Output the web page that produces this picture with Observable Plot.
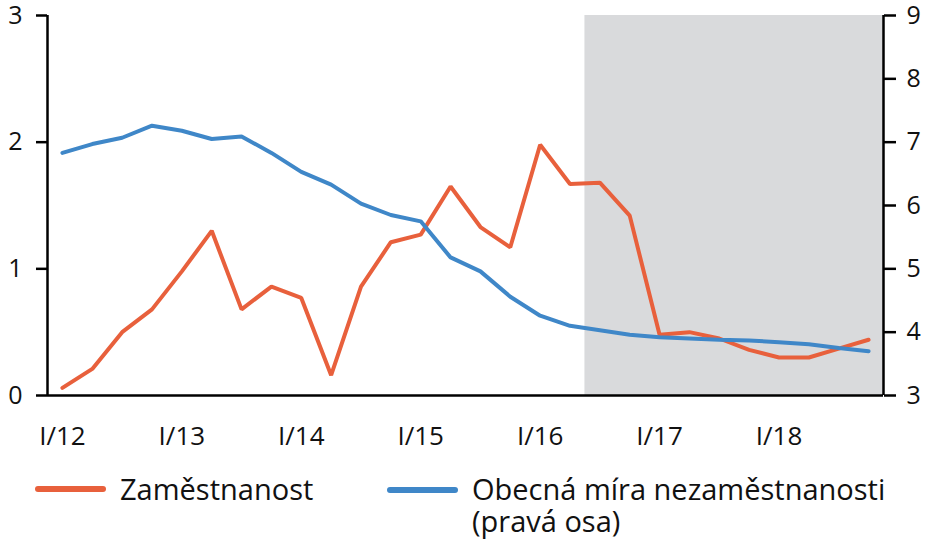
<!DOCTYPE html>
<html>
<head>
<meta charset="utf-8">
<script src="https://cdn.jsdelivr.net/npm/d3@7"></script>
<script src="https://cdn.jsdelivr.net/npm/@observablehq/plot@0.6"></script>
<style>
  html, body { margin: 0; padding: 0; background: #fff; }
  body { width: 937px; height: 543px; position: relative; overflow: hidden; font-family: "Open Sans", sans-serif; }
  #chart { position: absolute; left: 0; top: 0; }
  .leg { position: absolute; font-size: 29px; line-height: 29px; color: #111; white-space: nowrap; }
  .sw { position: absolute; height: 6px; border-radius: 3px; }
</style>
</head>
<body>
<div id="chart"></div>
<div class="sw" style="left:35px; top:486px; width:71px; background:#e8603c"></div>
<div class="leg" style="left:120px; top:474px;">Zaměstnanost</div>
<div class="sw" style="left:387px; top:487px; width:71px; background:#3f87c8"></div>
<div class="leg" style="left:472px; top:474px;">Obecná míra nezaměstnanosti</div>
<div class="leg" style="left:472px; top:506px;">(pravá osa)</div>
<script>
// quarterly data I/12 .. IV/18
const quarters = ["I/12","II/12","III/12","IV/12","I/13","II/13","III/13","IV/13","I/14","II/14","III/14","IV/14","I/15","II/15","III/15","IV/15","I/16","II/16","III/16","IV/16","I/17","II/17","III/17","IV/17","I/18","II/18","III/18","IV/18"];
const zamestnanost = [0.06,0.21,0.50,0.68,0.98,1.30,0.68,0.86,0.77,0.16,0.86,1.21,1.27,1.65,1.33,1.17,1.98,1.67,1.68,1.42,0.48,0.50,0.45,0.36,0.30,0.30,0.37,0.44];
const obecnaMira = [6.83,6.97,7.07,7.26,7.18,7.05,7.09,6.83,6.53,6.33,6.03,5.85,5.75,5.18,4.96,4.56,4.26,4.10,4.03,3.96,3.92,3.90,3.88,3.87,3.84,3.81,3.75,3.70];
const xTickLabels = ["I/12","I/13","I/14","I/15","I/16","I/17","I/18"];
const leftTicks = [0,1,2,3];
const rightTicks = [3,4,5,6,7,8,9];
const forecastFrom = "III/16";

const idx = q => quarters.indexOf(q);
const toLeft = v => (v - 3) / 2;   // right axis 3..9 mapped onto left 0..3
const fromLeft = v => v * 2 + 3;

const redData = zamestnanost.map((v, i) => ({q: i, v}));
const blueData = obecnaMira.map((v, i) => ({q: i, v: toLeft(v)}));
const xMin = -0.5, xMax = quarters.length - 0.5;
const shade = [{x1: idx(forecastFrom) - 0.5, x2: xMax, y1: leftTicks[0], y2: leftTicks[leftTicks.length - 1]}];

const chart = Plot.plot({
  width: 937,
  height: 465,
  marginLeft: 47,
  marginRight: 54,
  marginTop: 15,
  marginBottom: 70,
  style: {fontFamily: "Open Sans, sans-serif", fontSize: "25px", color: "#111", background: "#fff", overflow: "visible"},
  x: {domain: [xMin, xMax]},
  y: {domain: [0, 3]},
  marks: [
    Plot.rect(shade, {x1: "x1", x2: "x2", y1: "y1", y2: "y2", fill: "#d9dadc"}),
    Plot.line(redData, {x: "q", y: "v", stroke: "#e8603c", strokeWidth: 4, strokeLinejoin: "miter"}),
    Plot.line(blueData, {x: "q", y: "v", stroke: "#3f87c8", strokeWidth: 4, strokeLinejoin: "miter"}),
    Plot.ruleX([xMin], {stroke: "#000", strokeWidth: 2.5}),
    Plot.ruleX([xMax], {stroke: "#000", strokeWidth: 2.5}),
    Plot.ruleY([0], {x1: xMin, x2: xMax, stroke: "#000", strokeWidth: 2.5}),
    Plot.axisY(leftTicks, {anchor: "left", tickSize: 11, tickPadding: 14, strokeWidth: 2.5, stroke: "#000", fontSize: 25, tickFormat: d => String(d), label: null}),
    Plot.axisY(rightTicks.map(toLeft), {anchor: "right", tickSize: 12, tickPadding: 11, strokeWidth: 2.5, stroke: "#000", fontSize: 25, tickFormat: d => String(fromLeft(d)), label: null}),
    Plot.axisX(xTickLabels.map(l => idx(l)), {anchor: "bottom", tickSize: 0, tickPadding: 31, fontSize: 26, tickFormat: d => quarters[d], label: null})
  ]
});
document.getElementById("chart").appendChild(chart);
</script>
</body>
</html>
